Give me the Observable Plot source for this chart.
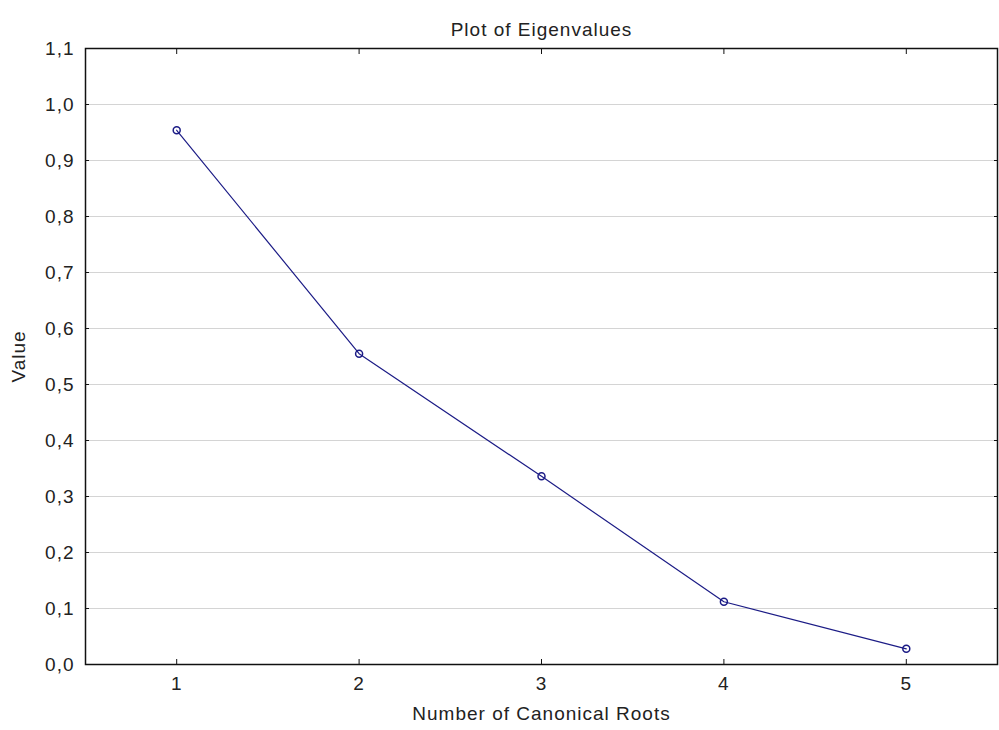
<!DOCTYPE html>
<html>
<head>
<meta charset="utf-8">
<script src="https://cdn.jsdelivr.net/npm/d3@7"></script>
<script src="https://cdn.jsdelivr.net/npm/@observablehq/plot@0.6"></script>
<style>
  html, body { margin: 0; padding: 0; background: #fff; }
  #chart svg text { letter-spacing: 1px; }
</style>
</head>
<body>
<div id="chart"></div>
<script>
const roots = [1, 2, 3, 4, 5];
const eigenvalues = [0.954, 0.555, 0.336, 0.112, 0.028];
const yTicks = [0, 0.1, 0.2, 0.3, 0.4, 0.5, 0.6, 0.7, 0.8, 0.9, 1.0, 1.1];
const gridTicks = [0.1, 0.2, 0.3, 0.4, 0.5, 0.6, 0.7, 0.8, 0.9, 1.0];
const xTicks = [1, 2, 3, 4, 5];
const title = "Plot of Eigenvalues";
const xLabel = "Number of Canonical Roots";
const yLabel = "Value";

const data = roots.map((r, i) => ({root: r, value: eigenvalues[i]}));
const fmt = d => d.toFixed(1).replace(".", ",");
const lineColor = "#1c1c86";
const font = "Liberation Sans, Arial, sans-serif";
const fs = 19;

const chart = Plot.plot({
  width: 999,
  height: 730,
  marginTop: 48,
  marginBottom: 66,
  marginLeft: 85,
  marginRight: 2,
  style: {fontFamily: font, fontSize: fs + "px", color: "#222", background: "#fff"},
  x: {domain: [0.5, 5.5]},
  y: {domain: [0, 1.1]},
  marks: [
    Plot.gridY(gridTicks, {stroke: "#d4d4d4", strokeOpacity: 1, strokeWidth: 1}),
    Plot.frame({stroke: "#111", strokeWidth: 1.5}),
    Plot.axisY(yTicks, {anchor: "left", tickSize: -4, tickFormat: () => "", label: null, stroke: "#111"}),
    Plot.axisY(yTicks, {anchor: "right", tickSize: -4, tickFormat: () => "", label: null, stroke: "#111"}),
    Plot.axisY(yTicks, {anchor: "left", tickSize: 0, tickPadding: 11, tickFormat: fmt, label: null, fontSize: fs, fill: "#222"}),
    Plot.axisX(xTicks, {anchor: "bottom", tickSize: -5, tickFormat: () => "", label: null, stroke: "#111"}),
    Plot.axisX(xTicks, {anchor: "top", tickSize: -5, tickFormat: () => "", label: null, stroke: "#111"}),
    Plot.axisX(xTicks, {anchor: "bottom", tickSize: 0, tickPadding: 12, tickFormat: d => String(d), label: null, fontSize: fs, fill: "#222"}),
    Plot.line(data, {x: "root", y: "value", stroke: lineColor, strokeWidth: 1.2}),
    Plot.dot(data, {x: "root", y: "value", r: 3.5, stroke: lineColor, strokeWidth: 1.5, fill: "none"}),
    Plot.text([title], {text: d => d, frameAnchor: "top", dy: -26, fontSize: fs, fill: "#222"}),
    Plot.text([xLabel], {text: d => d, frameAnchor: "bottom", dy: 55, fontSize: fs, fill: "#222"}),
    Plot.text([yLabel], {text: d => d, frameAnchor: "left", textAnchor: "middle", dx: -67, rotate: -90, fontSize: fs, fill: "#222"})
  ]
});
document.getElementById("chart").appendChild(chart);
</script>
</body>
</html>
